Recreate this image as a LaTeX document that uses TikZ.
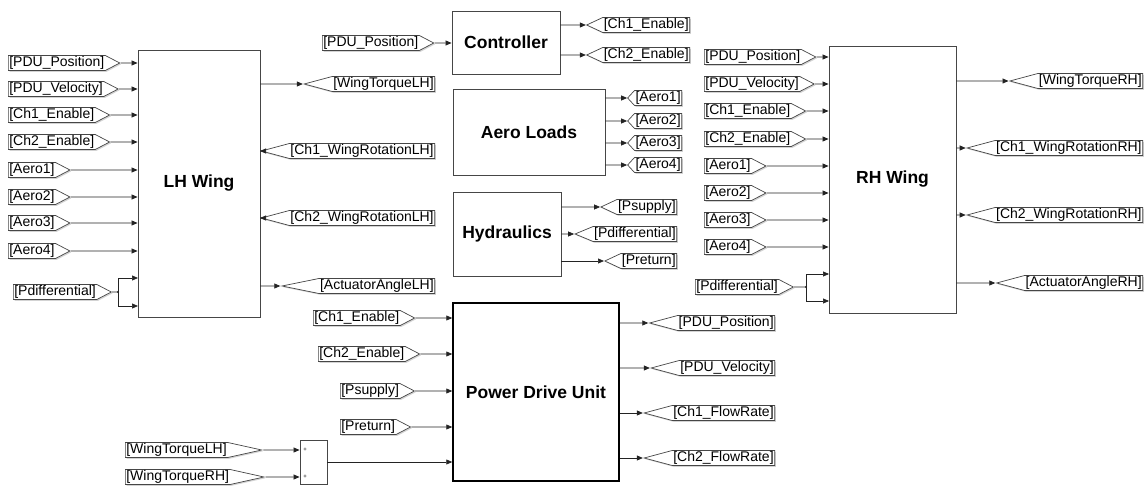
\documentclass[tikz,border=0pt]{standalone}
\usepackage{fontspec}
\setmainfont{Liberation Sans}
\usetikzlibrary{arrows.meta,positioning,shapes.symbols,shadows}
\definecolor{wire}{RGB}{35,35,35}
\definecolor{edge}{RGB}{70,70,70}

\begin{document}
\begin{tikzpicture}[
  x=1pt, y=-1pt,
  every node/.style={font=\fontsize{14}{16}\selectfont},
  dshadow/.style={drop shadow={shadow xshift=1.3pt, shadow yshift=-1.3pt, opacity=0.35}},
  blk/.style={draw=edge, line width=0.9pt, fill=white, dshadow, inner sep=0pt, font=\fontsize{17.5}{20}\selectfont\bfseries},
  fromtag/.style={signal, signal to=east, signal pointer angle=55, draw=edge, fill=white, line width=0.7pt, inner xsep=1pt, inner ysep=1pt, minimum height=15, anchor=west, dshadow},
  gototag/.style={signal, signal to=west, signal pointer angle=30, draw=edge, fill=white, line width=0.7pt, inner xsep=1pt, inner ysep=1pt, minimum height=15, anchor=east, dshadow},
  sig/.style={draw=wire, line width=0.7pt, -{Triangle[length=6pt,width=5pt]}},
  plus/.style={font=\fontsize{6}{6}\selectfont, inner sep=0pt}
]
\useasboundingbox (0,0) rectangle (1148,486);

% subsystems
\node[blk, minimum width=122, minimum height=267] (lhw) at (199,183.5) {LH Wing};
\node[blk, minimum width=108, minimum height=63] (ctrl) at (506,42.5) {Controller};
\node[blk, minimum width=152, minimum height=86] (aero) at (529,132) {Aero Loads};
\node[blk, minimum width=108, minimum height=84] (hyd) at (507,234) {Hydraulics};
\node[blk, minimum width=166, minimum height=178, line width=1.5pt, draw=black] (pdu) at (536,392) {Power Drive Unit};
\node[blk, minimum width=127, minimum height=267] (rhw) at (892.5,179.5) {RH Wing};
\node[blk, font=\normalsize, minimum width=27, minimum height=44] (sum) at (313.5,462) {};
\node[plus] (p1) at (305,450) {+};
\node[plus] (p2) at (305,477) {+};

% LH wing
\foreach \i/\t/\y in {1/PDU\_Position/63, 2/PDU\_Velocity/89, 3/Ch1\_Enable/115, 4/Ch2\_Enable/142,
                      5/Aero1/170, 6/Aero2/197, 7/Aero3/223, 8/Aero4/251}{
  \node[fromtag] (lin\i) at (8,\y) {[\t]};
  \draw[sig] (lin\i) -- (lin\i -| lhw.west);
}
\node[fromtag] (lpd) at (13,292) {[Pdifferential]};
\coordinate (lbr) at (118,292);
\coordinate (lin9) at (138,278);
\coordinate (lin10) at (138,306);
\draw[wire, line width=0.7pt] (lpd) -- (lbr);
\draw[sig] (lbr) |- (lin9);
\draw[sig] (lbr) |- (lin10);
\fill[wire] (lbr) circle (1.2);
\foreach \i/\t/\y/\a in {1/WingTorqueLH/84/30, 2/Ch1\_WingRotationLH/151/30,
                         3/Ch2\_WingRotationLH/218/30, 4/ActuatorAngleLH/286/23}{
  \node[gototag, signal pointer angle=\a] (lout\i) at (435,\y) {[\t]};
  \draw[sig] (lout\i -| lhw.east) -- (lout\i);
}

% controller
\node[fromtag] (cin) at (322,43) {[PDU\_Position]};
\draw[sig] (cin) -- (cin -| ctrl.west);
\foreach \i/\t/\y in {1/Ch1\_Enable/25, 2/Ch2\_Enable/55}{
  \node[gototag, signal pointer angle=50] (cout\i) at (690,\y) {[\t]};
  \draw[sig] (cout\i -| ctrl.east) -- (cout\i);
}

% aero loads
\foreach \i/\y in {1/98, 2/121, 3/143, 4/165}{
  \node[gototag, signal pointer angle=95] (aout\i) at (682,\y) {[Aero\i]};
  \draw[sig] (aout\i -| aero.east) -- (aout\i);
}

% hydraulics
\foreach \i/\t/\y/\a in {1/Psupply/207/50, 2/Pdifferential/234/45, 3/Preturn/261/50}{
  \node[gototag, signal pointer angle=\a] (hout\i) at (677,\y) {[\t]};
  \draw[sig] (hout\i -| hyd.east) -- (hout\i);
}

% power drive unit
\foreach \i/\t/\x/\y in {1/Ch1\_Enable/313/318, 2/Ch2\_Enable/318/354, 3/Psupply/340/391, 4/Preturn/340/427}{
  \node[fromtag] (pin\i) at (\x,\y) {[\t]};
  \draw[sig] (pin\i) -- (pin\i -| pdu.west);
}
\node[fromtag, signal pointer angle=25] (tql) at (125,450) {[WingTorqueLH]};
\node[fromtag, signal pointer angle=25] (tqr) at (125,477) {[WingTorqueRH]};
\draw[sig] (tql) -- (tql -| sum.west);
\draw[sig] (tqr) -- (tqr -| sum.west);
\draw[sig] (sum) -- (sum -| pdu.west);
\foreach \i/\t/\y in {1/PDU\_Position/323, 2/PDU\_Velocity/368, 3/Ch1\_FlowRate/413, 4/Ch2\_FlowRate/458}{
  \node[gototag] (pout\i) at (775,\y) {[\t]};
  \draw[sig] (pout\i -| pdu.east) -- (pout\i);
}

% RH wing
\foreach \i/\t/\y in {1/PDU\_Position/57, 2/PDU\_Velocity/84, 3/Ch1\_Enable/111, 4/Ch2\_Enable/139,
                      5/Aero1/166, 6/Aero2/193, 7/Aero3/220, 8/Aero4/247}{
  \node[fromtag] (rin\i) at (704,\y) {[\t]};
  \draw[sig] (rin\i) -- (rin\i -| rhw.west);
}
\node[fromtag] (rpd) at (695,287) {[Pdifferential]};
\coordinate (rbr) at (806,287);
\coordinate (rin9) at (829,274);
\coordinate (rin10) at (829,301);
\draw[wire, line width=0.7pt] (rpd) -- (rbr);
\draw[sig] (rbr) |- (rin9);
\draw[sig] (rbr) |- (rin10);
\fill[wire] (rbr) circle (1.2);
\foreach \i/\t/\y in {1/WingTorqueRH/81, 2/Ch1\_WingRotationRH/148,
                      3/Ch2\_WingRotationRH/215, 4/ActuatorAngleRH/283}{
  \node[gototag] (rout\i) at (1143,\y) {[\t]};
  \draw[sig] (rout\i -| rhw.east) -- (rout\i);
}
\end{tikzpicture}
\end{document}
